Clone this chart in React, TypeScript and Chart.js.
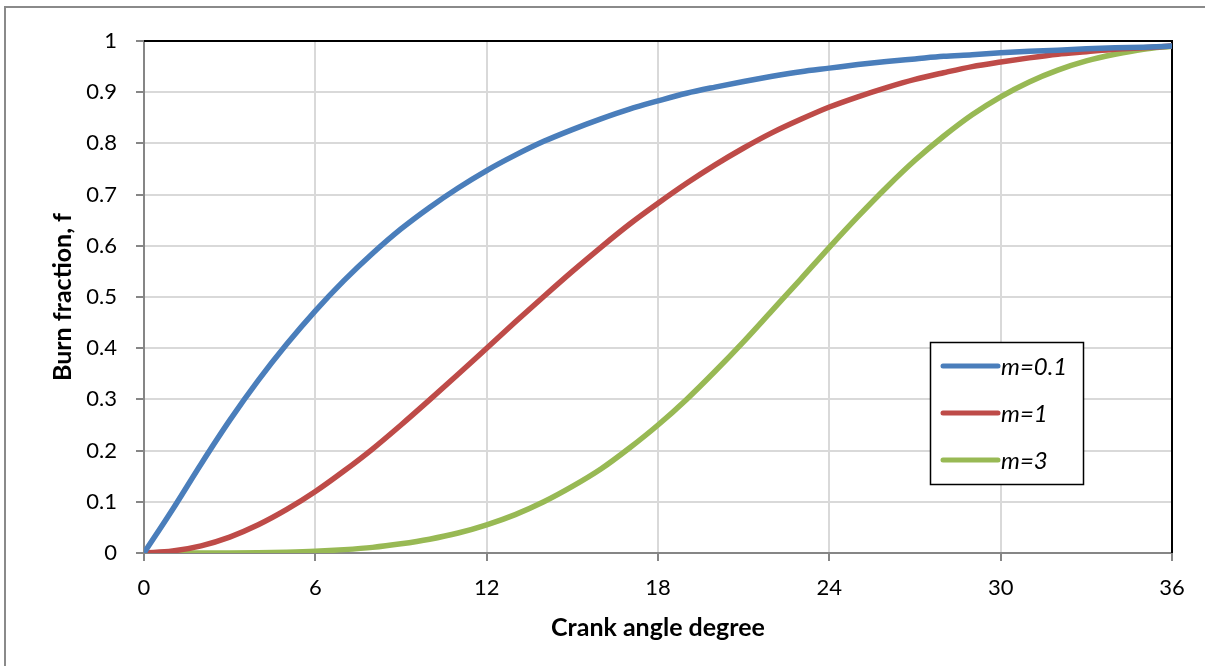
import React, { useEffect, useRef } from "react";
import { Chart, registerables } from "chart.js";

Chart.register(...registerables);

const crankAngles = [0, 1, 2, 3, 4, 5, 6, 7, 8, 9, 10, 11, 12, 13, 14, 15, 16, 17, 18, 19, 20, 21, 22, 23, 24, 25, 26, 27, 28, 29, 30, 31, 32, 33, 34, 35, 36];

const burnM01 = [0, 0.085, 0.174, 0.259, 0.337, 0.408, 0.473, 0.532, 0.585, 0.633, 0.675, 0.713, 0.747, 0.777, 0.804, 0.827, 0.848, 0.867, 0.883, 0.898, 0.910, 0.921, 0.931, 0.940, 0.947, 0.954, 0.960, 0.965, 0.970, 0.973, 0.977, 0.980, 0.982, 0.985, 0.987, 0.988, 0.990];

const burnM1 = [0, 0.004, 0.014, 0.031, 0.055, 0.085, 0.120, 0.160, 0.203, 0.250, 0.299, 0.349, 0.400, 0.451, 0.501, 0.550, 0.597, 0.642, 0.683, 0.722, 0.758, 0.791, 0.821, 0.847, 0.871, 0.891, 0.909, 0.925, 0.938, 0.950, 0.959, 0.967, 0.974, 0.979, 0.984, 0.987, 0.990];

const burnM3 = [0, 0, 0, 0.0002, 0.0007, 0.0017, 0.0035, 0.0066, 0.011, 0.018, 0.027, 0.039, 0.055, 0.075, 0.100, 0.130, 0.164, 0.205, 0.250, 0.300, 0.355, 0.413, 0.474, 0.535, 0.597, 0.657, 0.714, 0.767, 0.814, 0.856, 0.891, 0.920, 0.943, 0.961, 0.974, 0.984, 0.990];

const seriesLabels = ["m=0.1", "m=1", "m=3"];
const seriesColors = ["#4A7EBB", "#BE4B48", "#98B954"];

const xTickValues = [0, 6, 12, 18, 24, 30, 36];
const yTickValues = [0, 0.1, 0.2, 0.3, 0.4, 0.5, 0.6, 0.7, 0.8, 0.9, 1];

const xTitle = "Crank angle degree";
const yTitle = "Burn fraction, f";

const FONT = "Lato, 'Noto Sans', sans-serif";

const framePlugin = {
  id: "frame",
  beforeDraw(chart: any) {
    const { ctx } = chart;
    ctx.save();
    ctx.fillStyle = "#ffffff";
    ctx.fillRect(0, 0, chart.width, chart.height);
    ctx.strokeStyle = "#8a8a8a";
    ctx.lineWidth = 2;
    ctx.strokeRect(5, 7, chart.width + 20, chart.height + 20);
    ctx.restore();
  },
  beforeDatasetsDraw(chart: any) {
    const { ctx, chartArea } = chart;
    ctx.save();
    ctx.strokeStyle = "#000000";
    ctx.lineWidth = 2;
    ctx.beginPath();
    ctx.moveTo(chartArea.left, chartArea.top);
    ctx.lineTo(chartArea.right, chartArea.top);
    ctx.lineTo(chartArea.right, chartArea.bottom);
    ctx.stroke();
    ctx.restore();
  },
};

const insideLegendPlugin = {
  id: "insideLegend",
  afterDraw(chart: any) {
    const { ctx } = chart;
    const bx = 930;
    const by = 342;
    const bw = 153;
    const bh = 142;
    ctx.save();
    ctx.fillStyle = "#ffffff";
    ctx.fillRect(bx, by, bw, bh);
    ctx.strokeStyle = "#000000";
    ctx.lineWidth = 1.5;
    ctx.strokeRect(bx + 0.5, by + 0.5, bw, bh);
    chart.data.datasets.forEach((ds: any, i: number) => {
      const cy = by + 24 + i * 47;
      ctx.strokeStyle = ds.borderColor;
      ctx.lineWidth = 5;
      ctx.lineCap = "round";
      ctx.beginPath();
      ctx.moveTo(bx + 13, cy);
      ctx.lineTo(bx + 68, cy);
      ctx.stroke();
      ctx.fillStyle = "#000000";
      ctx.font = `italic 24px ${FONT}`;
      ctx.textBaseline = "middle";
      ctx.textAlign = "left";
      ctx.fillText(ds.label, bx + 71, cy + 1);
    });
    ctx.restore();
  },
};

export default function App() {
  const canvasRef = useRef<HTMLCanvasElement | null>(null);

  useEffect(() => {
    if (!canvasRef.current) return;
    const seriesValues = [burnM01, burnM1, burnM3];
    const chart = new Chart(canvasRef.current, {
      type: "line",
      data: {
        datasets: seriesValues.map((vals, i) => ({
          label: seriesLabels[i],
          data: crankAngles.map((a, j) => ({ x: a, y: vals[j] })),
          borderColor: seriesColors[i],
          backgroundColor: seriesColors[i],
          borderWidth: 5.5,
          pointRadius: 0,
          fill: false,
          cubicInterpolationMode: "monotone",
          borderCapStyle: "round",
        })),
      },
      options: {
        animation: false,
        responsive: false,
        devicePixelRatio: 1,
        layout: { padding: { top: 41, right: 33, left: 0, bottom: 0 } },
        plugins: {
          legend: { display: false },
          tooltip: { enabled: false },
        },
        scales: {
          x: {
            type: "linear",
            min: 0,
            max: 36,
            afterFit: (scale: any) => {
              scale.height = 113;
            },
            afterBuildTicks: (scale: any) => {
              scale.ticks = xTickValues.map((v) => ({ value: v }));
            },
            grid: {
              color: "#d9d9d9",
              lineWidth: 2,
              tickColor: "#868686",
              tickLength: 8,
              tickWidth: 2,
            },
            border: { color: "#868686", width: 2 },
            ticks: {
              color: "#000000",
              padding: 14,
              maxRotation: 0,
              font: { family: FONT, size: 22 },
            },
            title: {
              display: true,
              text: xTitle,
              color: "#000000",
              font: { family: FONT, size: 25, weight: "bold" },
              padding: { top: 0, bottom: 23 },
            },
          },
          y: {
            type: "linear",
            min: 0,
            max: 1,
            afterFit: (scale: any) => {
              scale.width = 144;
            },
            afterBuildTicks: (scale: any) => {
              scale.ticks = yTickValues.map((v) => ({ value: v }));
            },
            grid: {
              color: "#d9d9d9",
              lineWidth: 2,
              tickColor: "#868686",
              tickLength: 8,
              tickWidth: 2,
            },
            border: { color: "#868686", width: 2 },
            ticks: {
              color: "#000000",
              padding: 19,
              font: { family: FONT, size: 22 },
              callback: (v: any) => String(Math.round(Number(v) * 10) / 10),
            },
            title: {
              display: true,
              text: yTitle,
              color: "#000000",
              font: { family: FONT, size: 25, weight: "bold" },
              padding: { top: 48, bottom: 0 },
            },
          },
        },
      },
      plugins: [framePlugin, insideLegendPlugin],
    } as any);
    return () => chart.destroy();
  }, []);

  return (
    <div style={{ position: "fixed", left: 0, top: 0, width: 1205, height: 666, background: "#fff" }}>
      <canvas ref={canvasRef} width={1205} height={666} style={{ display: "block" }} />
    </div>
  );
}
